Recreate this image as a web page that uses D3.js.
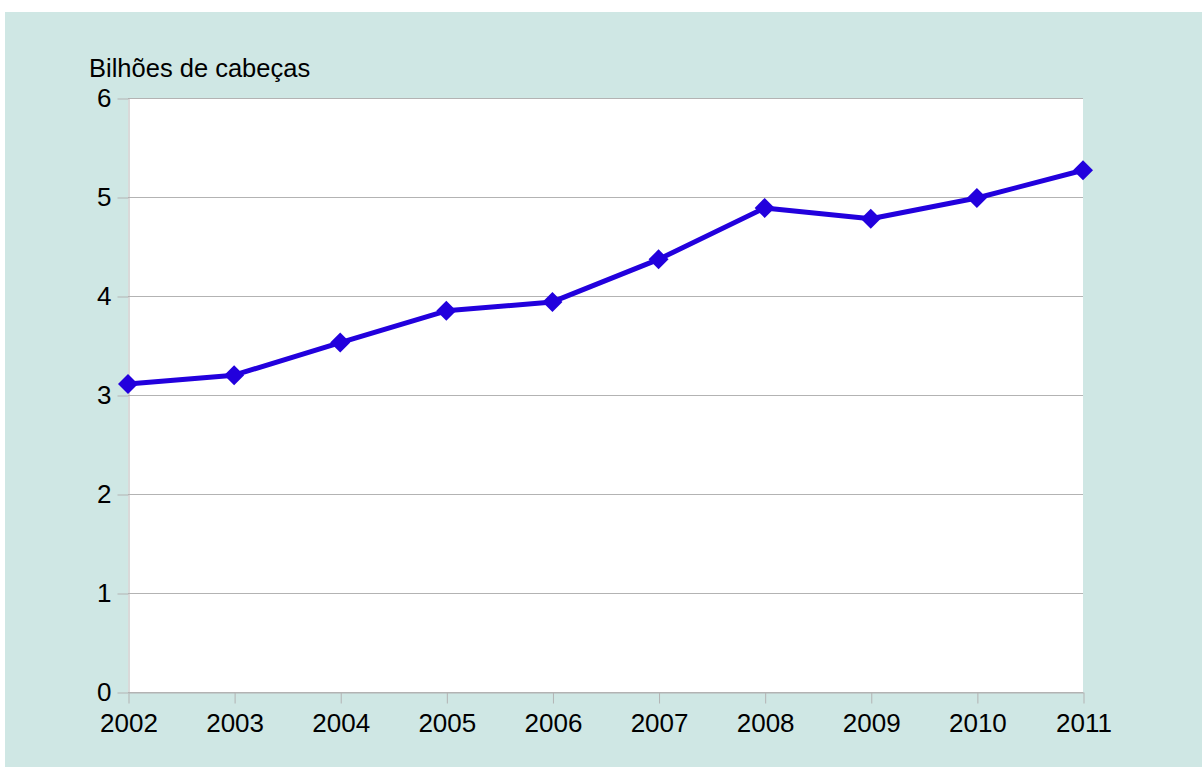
<!DOCTYPE html>
<html>
<head>
<meta charset="utf-8">
<script src="https://cdn.jsdelivr.net/npm/d3@7"></script>
<style>
  body { margin: 0; background: #ffffff; }
  svg { display: block; font-family: 'Liberation Sans', Arial, sans-serif; }
</style>
</head>
<body>
<div id="wrapper"></div>
<script>
// chart data
const years = ['2002', '2003', '2004', '2005', '2006', '2007', '2008', '2009', '2010', '2011']
const heads = [3.11, 3.2, 3.53, 3.85, 3.94, 4.37, 4.89, 4.78, 4.99, 5.27]
const yTicks = [0, 1, 2, 3, 4, 5, 6]
const yTitle = 'Bilhões de cabeças'

const dimensions = {
  width: 1202,
  height: 767,
  margin: { top: 98, right: 119, bottom: 75, left: 128 },
}
dimensions.boundedWidth = dimensions.width - dimensions.margin.left - dimensions.margin.right
dimensions.boundedHeight = dimensions.height - dimensions.margin.top - dimensions.margin.bottom

const svg = d3.select('#wrapper')
  .append('svg')
  .attr('width', dimensions.width)
  .attr('height', dimensions.height)

// teal background panel
svg.append('rect')
  .attr('x', 5).attr('y', 12)
  .attr('width', dimensions.width - 5)
  .attr('height', dimensions.height - 12)
  .attr('fill', '#cfe7e4')

const bounds = svg.append('g')
  .attr('transform', `translate(${dimensions.margin.left},${dimensions.margin.top})`)

const xScale = d3.scalePoint()
  .domain(years)
  .range([0, dimensions.boundedWidth])

const yScale = d3.scaleLinear()
  .domain([0, 6])
  .range([dimensions.boundedHeight, 0])

// plot area
bounds.append('rect')
  .attr('width', dimensions.boundedWidth)
  .attr('height', dimensions.boundedHeight)
  .attr('fill', '#ffffff')

// horizontal gridlines
bounds.append('g')
  .selectAll('line')
  .data(yTicks)
  .join('line')
  .attr('x1', 0)
  .attr('x2', dimensions.boundedWidth)
  .attr('y1', d => Math.round(yScale(d)) + 0.5)
  .attr('y2', d => Math.round(yScale(d)) + 0.5)
  .attr('stroke', '#b3b3b3')

// y axis
const yAxis = bounds.append('g')
  .attr('transform', 'translate(0.5,0.5)')
  .call(d3.axisLeft(yScale).tickValues(yTicks).tickFormat(d3.format('d'))
    .tickSize(11).tickPadding(6).tickSizeOuter(0))
yAxis.select('.domain').attr('stroke', '#b3b3b3')
yAxis.selectAll('.tick line').attr('stroke', '#b3b3b3')
yAxis.selectAll('.tick text')
  .attr('font-size', 26)
  .attr('font-family', "'Liberation Sans', Arial, sans-serif")
  .attr('fill', '#000')

// x axis
const xAxis = bounds.append('g')
  .attr('transform', `translate(0.5,${dimensions.boundedHeight + 0.5})`)
  .call(d3.axisBottom(xScale).tickSize(11).tickPadding(10).tickSizeOuter(0))
xAxis.select('.domain').attr('stroke', '#b3b3b3')
xAxis.selectAll('.tick line').attr('stroke', '#b3b3b3')
xAxis.selectAll('.tick text')
  .attr('font-size', 26)
  .attr('font-family', "'Liberation Sans', Arial, sans-serif")
  .attr('fill', '#000')

// axis title
svg.append('text')
  .attr('x', 89)
  .attr('y', 77)
  .attr('font-size', 25.5)
  .attr('fill', '#000')
  .text(yTitle)

// series line
const line = d3.line()
  .x((d, i) => xScale(years[i]))
  .y(d => yScale(d))

bounds.append('path')
  .datum(heads)
  .attr('d', line)
  .attr('fill', 'none')
  .attr('stroke', '#2200dd')
  .attr('stroke-width', 5)
  .attr('stroke-linejoin', 'round')

// diamond markers
const diamond = d3.symbol().type(d3.symbolSquare).size(200)
bounds.append('g')
  .selectAll('path')
  .data(heads)
  .join('path')
  .attr('d', diamond)
  .attr('transform', (d, i) => `translate(${xScale(years[i])},${yScale(d)}) rotate(45)`)
  .attr('fill', '#2200dd')
</script>
</body>
</html>
